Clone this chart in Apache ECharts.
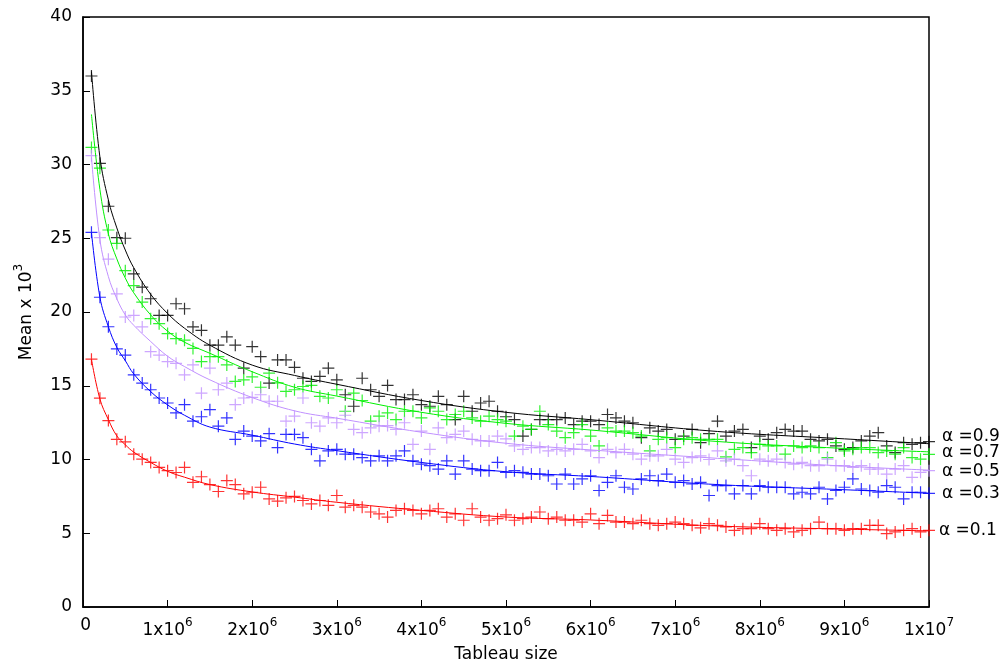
<!DOCTYPE html>
<html>
<head>
<meta charset="utf-8">
<script src="https://cdn.jsdelivr.net/npm/echarts@6/dist/echarts.min.js"></script>
<style>
  html, body { margin: 0; padding: 0; background: #fff; }
  #chart { width: 1003px; height: 668px; }
</style>
</head>
<body>
<div id="chart"></div>
<script>
// tableau sizes: 1x10^5 ... 1x10^7, one measure every 1x10^5
var sizeStep = 100000;
var sizeCount = 100;

// measured means (x 10^3), one value per tableau size
var mean09 = [36.0, 30.08, 27.17, 25.04, 25.0, 22.58, 21.68, 20.9, 19.77, 19.77,
  20.56, 20.22, 18.99, 18.76, 17.75, 17.75, 18.32, 17.75, 16.19, 17.65,
  16.97, 15.18, 16.75, 16.75, 16.25, 15.51, 15.29, 15.63, 16.19, 15.4,
  14.39, 13.61, 15.51, 14.73, 14.28, 15.02, 14.06, 14.06, 14.39, 13.72,
  13.61, 14.28, 13.72, 12.71, 14.28, 13.27, 13.83, 13.95, 13.27, 12.9,
  12.71, 11.59, 12.04, 12.71, 12.71, 12.71, 12.82, 12.37, 12.6, 12.6,
  12.37, 13.05, 12.82, 12.6, 12.49, 11.48, 12.15, 11.93, 12.04, 11.37,
  11.59, 12.04, 11.14, 11.75, 12.6, 11.59, 11.93, 12.04, 10.81, 11.59,
  11.37, 11.82, 12.04, 11.93, 11.93, 11.37, 11.26, 11.37, 10.92, 10.69,
  10.81, 11.26, 11.59, 11.82, 10.92, 10.47, 11.14, 11.03, 11.14, 11.21];
var mean07 = [31.16, 29.75, 25.56, 24.65, 22.8, 21.79, 20.67, 19.55, 19.21, 18.54,
  18.2, 18.09, 17.53, 16.64, 16.97, 16.97, 16.41, 15.29, 15.4, 15.6,
  14.9, 15.85, 15.2, 14.62, 14.73, 14.95, 15.02, 14.28, 14.17, 14.73,
  13.27, 14.5, 14.0, 12.6, 12.94, 13.16, 12.71, 13.27, 13.27, 12.82,
  13.5, 13.27, 12.71, 13.05, 13.27, 12.82, 12.6, 12.94, 12.71, 12.6,
  11.59, 12.26, 12.04, 13.27, 12.37, 11.93, 11.48, 11.82, 12.37, 11.59,
  10.92, 12.15, 11.93, 11.93, 11.82, 11.59, 10.58, 11.37, 11.48, 10.81,
  11.37, 11.48, 11.37, 11.37, 11.37, 10.18, 10.69, 10.81, 10.47, 11.03,
  10.92, 10.92, 10.36, 10.92, 10.81, 10.92, 10.81, 10.13, 11.14, 10.58,
  10.69, 10.81, 10.81, 10.47, 10.58, 10.36, 10.81, 10.13, 10.02, 10.35];
var mean05 = [30.6, 25.04, 23.58, 21.23, 19.66, 19.77, 18.99, 17.31, 17.08, 16.64,
  16.52, 15.74, 16.41, 14.5, 16.19, 14.73, 15.18, 13.72, 14.17, 14.21,
  14.39, 13.95, 13.95, 12.6, 12.94, 14.17, 12.49, 12.26, 12.82, 12.49,
  13.0, 12.04, 11.82, 12.15, 12.26, 12.3, 12.04, 12.49, 11.03, 11.93,
  10.69, 12.15, 11.48, 11.7, 11.93, 11.37, 11.26, 11.26, 11.59, 11.4,
  10.92, 10.69, 10.81, 10.81, 10.58, 10.69, 10.58, 10.69, 11.03, 10.58,
  10.13, 10.69, 10.47, 10.69, 10.36, 10.02, 10.25, 10.25, 10.69, 10.02,
  9.8, 10.13, 10.25, 10.0, 10.58, 9.91, 10.02, 9.58, 8.9, 10.02,
  9.91, 10.02, 9.8, 9.68, 9.8, 9.58, 9.58, 10.02, 9.58, 9.58,
  9.46, 9.58, 9.35, 9.35, 9.01, 9.35, 9.58, 8.79, 9.13, 9.24];
var mean03 = [25.4, 21.0, 19.0, 17.5, 17.08, 15.74, 15.18, 14.73, 14.17, 13.83,
  13.16, 13.72, 12.6, 12.9, 13.38, 12.26, 12.82, 11.37, 11.93, 11.59,
  11.26, 11.75, 10.81, 11.7, 11.7, 11.48, 10.69, 9.91, 10.58, 10.69,
  10.36, 10.36, 10.13, 9.91, 10.25, 9.91, 10.25, 10.58, 9.91, 9.68,
  9.58, 9.35, 9.91, 9.01, 9.91, 9.35, 9.24, 9.24, 9.8, 9.13,
  9.24, 9.13, 9.01, 9.01, 8.9, 8.34, 9.01, 8.34, 8.68, 8.9,
  7.9, 8.45, 8.9, 8.12, 8.0, 8.68, 8.9, 8.57, 9.01, 8.45,
  8.57, 8.34, 8.45, 7.56, 8.23, 8.23, 7.67, 8.23, 7.67, 8.23,
  8.12, 8.12, 8.12, 7.67, 7.78, 7.67, 8.12, 7.33, 7.9, 8.12,
  8.68, 8.0, 7.9, 7.78, 8.23, 8.12, 7.33, 7.78, 7.78, 7.71];
var mean01 = [16.8, 14.16, 12.64, 11.37, 11.2, 10.36, 10.02, 9.8, 9.46, 9.24,
  9.12, 9.46, 8.45, 8.83, 8.3, 7.83, 8.57, 8.3, 7.67, 7.78,
  8.12, 7.33, 7.18, 7.4, 7.5, 7.22, 6.99, 7.22, 6.89, 7.56,
  6.77, 6.89, 6.77, 6.44, 6.32, 6.1, 6.55, 6.66, 6.55, 6.32,
  6.55, 6.66, 6.1, 6.32, 5.88, 6.66, 6.1, 5.88, 5.99, 6.25,
  5.88, 5.99, 6.1, 6.44, 5.99, 6.1, 5.88, 5.88, 5.76, 6.32,
  5.65, 6.21, 5.76, 5.76, 5.65, 5.88, 5.65, 5.54, 5.65, 5.76,
  5.65, 5.54, 5.37, 5.65, 5.54, 5.43, 5.2, 5.31, 5.31, 5.65,
  5.31, 5.2, 5.31, 5.09, 5.2, 5.31, 5.76, 5.31, 5.31, 5.2,
  5.31, 5.31, 5.54, 5.54, 4.98, 5.09, 5.2, 5.31, 5.09, 5.2];

// fitted curves at these sizes (x 10^5)
var fitSizes = [1, 2, 3, 4, 5, 6, 8, 10, 12, 15, 20, 25, 30, 40, 50, 60, 75, 90, 100];
var fit09 = [36.3, 30.5, 27.6, 25.7, 24.2, 23.0, 21.2, 19.9, 18.9, 17.75, 16.4, 15.7, 15.1, 14.0, 13.2, 12.7, 11.9, 11.4, 11.07];
var fit07 = [33.4, 28.3, 25.3, 23.6, 22.3, 21.3, 19.8, 18.7, 17.95, 17.2, 15.95, 14.9, 14.3, 13.2, 12.45, 12.0, 11.22, 10.75, 10.52];
var fit05 = [30.5, 24.9, 22.4, 20.9, 19.8, 19.1, 18.0, 17.0, 16.3, 15.4, 14.2, 13.3, 12.8, 11.85, 11.1, 10.65, 10.08, 9.55, 9.28];
var fit03 = [25.4, 21.0, 19.0, 17.6, 16.7, 15.8, 14.6, 13.7, 13.0, 12.2, 11.65, 11.05, 10.6, 9.8, 9.17, 8.85, 8.3, 7.95, 7.71];
var fit01 = [16.8, 14.1, 12.7, 11.6, 11.0, 10.5, 9.8, 9.2, 8.8, 8.3, 7.8, 7.45, 7.1, 6.55, 6.1, 5.9, 5.49, 5.28, 5.16];

var alphaLabels = ['α =0.9', 'α =0.7', 'α =0.5', 'α =0.3', 'α =0.1'];
var colors = ['#000000', '#00f000', '#c090ff', '#0000ff', '#ff0000'];
var labelShift = [[0, -7], [0, 1], [0, 1], [0, 0], [-3, 0]];

var sizes = [];
for (var k = 1; k <= sizeCount; k++) sizes.push(k * sizeStep);

function pairs(xs, ys, scale) {
  var out = [];
  for (var i = 0; i < ys.length; i++) out.push([xs[i] * scale, ys[i]]);
  return out;
}

var means = [mean09, mean07, mean05, mean03, mean01];
var fits = [fit09, fit07, fit05, fit03, fit01];

var series = [];
for (var s = 0; s < means.length; s++) {
  series.push({
    type: 'scatter',
    data: pairs(sizes, means[s], 1),
    symbol: 'path://M0,6H12M6,0V12',
    symbolSize: 12,
    itemStyle: { color: 'none', borderColor: colors[s], borderWidth: 1.2 },
    emphasis: { disabled: true },
    silent: true
  });
  series.push({
    type: 'line',
    data: pairs(fitSizes, fits[s], sizeStep),
    smooth: 0.4,
    showSymbol: false,
    lineStyle: { color: colors[s], width: 1 },
    silent: true,
    endLabel: {
      show: true,
      formatter: alphaLabels[s],
      color: '#000',
      fontFamily: 'DejaVu Sans',
      fontSize: 17,
      distance: 13,
      offset: labelShift[s]
    }
  });
}

var supRich = {
  sup: { fontSize: 12, padding: [0, 0, 15, 0], fontFamily: 'DejaVu Sans', color: '#000' }
};

var chart = echarts.init(document.getElementById('chart'));
chart.setOption({
  animation: false,
  textStyle: { fontFamily: 'DejaVu Sans', color: '#000' },
  grid: {
    left: 83, right: 74, top: 17, bottom: 57,
    show: true, borderColor: '#000', borderWidth: 1.5
  },
  xAxis: {
    type: 'value',
    min: 0, max: 10000000, interval: 1000000,
    name: 'Tableau size',
    nameLocation: 'middle',
    nameGap: 39,
    nameTextStyle: { fontSize: 17, color: '#000' },
    axisLine: { lineStyle: { color: '#000', width: 1.5 } },
    axisTick: { inside: true, length: 7, lineStyle: { color: '#000' } },
    splitLine: { show: false },
    axisLabel: {
      fontSize: 17, color: '#000', margin: 10,
      formatter: function (v) {
        if (v === 0) return ' 0';
        if (v === 10000000) return '1x10{sup|7}';
        return (v / 1000000) + 'x10{sup|6}';
      },
      rich: supRich
    }
  },
  yAxis: {
    type: 'value',
    min: 0, max: 40, interval: 5,
    name: 'Mean x 10{sup|3}',
    nameLocation: 'middle',
    nameRotate: 90,
    nameGap: 43,
    nameTextStyle: { fontSize: 17, color: '#000', rich: supRich },
    axisLine: { show: true, lineStyle: { color: '#000', width: 1.5 } },
    axisTick: { show: true, inside: true, length: 7, lineStyle: { color: '#000' } },
    splitLine: { show: false },
    axisLabel: { fontSize: 17, color: '#000', margin: 11 }
  },
  series: series
});
</script>
</body>
</html>
